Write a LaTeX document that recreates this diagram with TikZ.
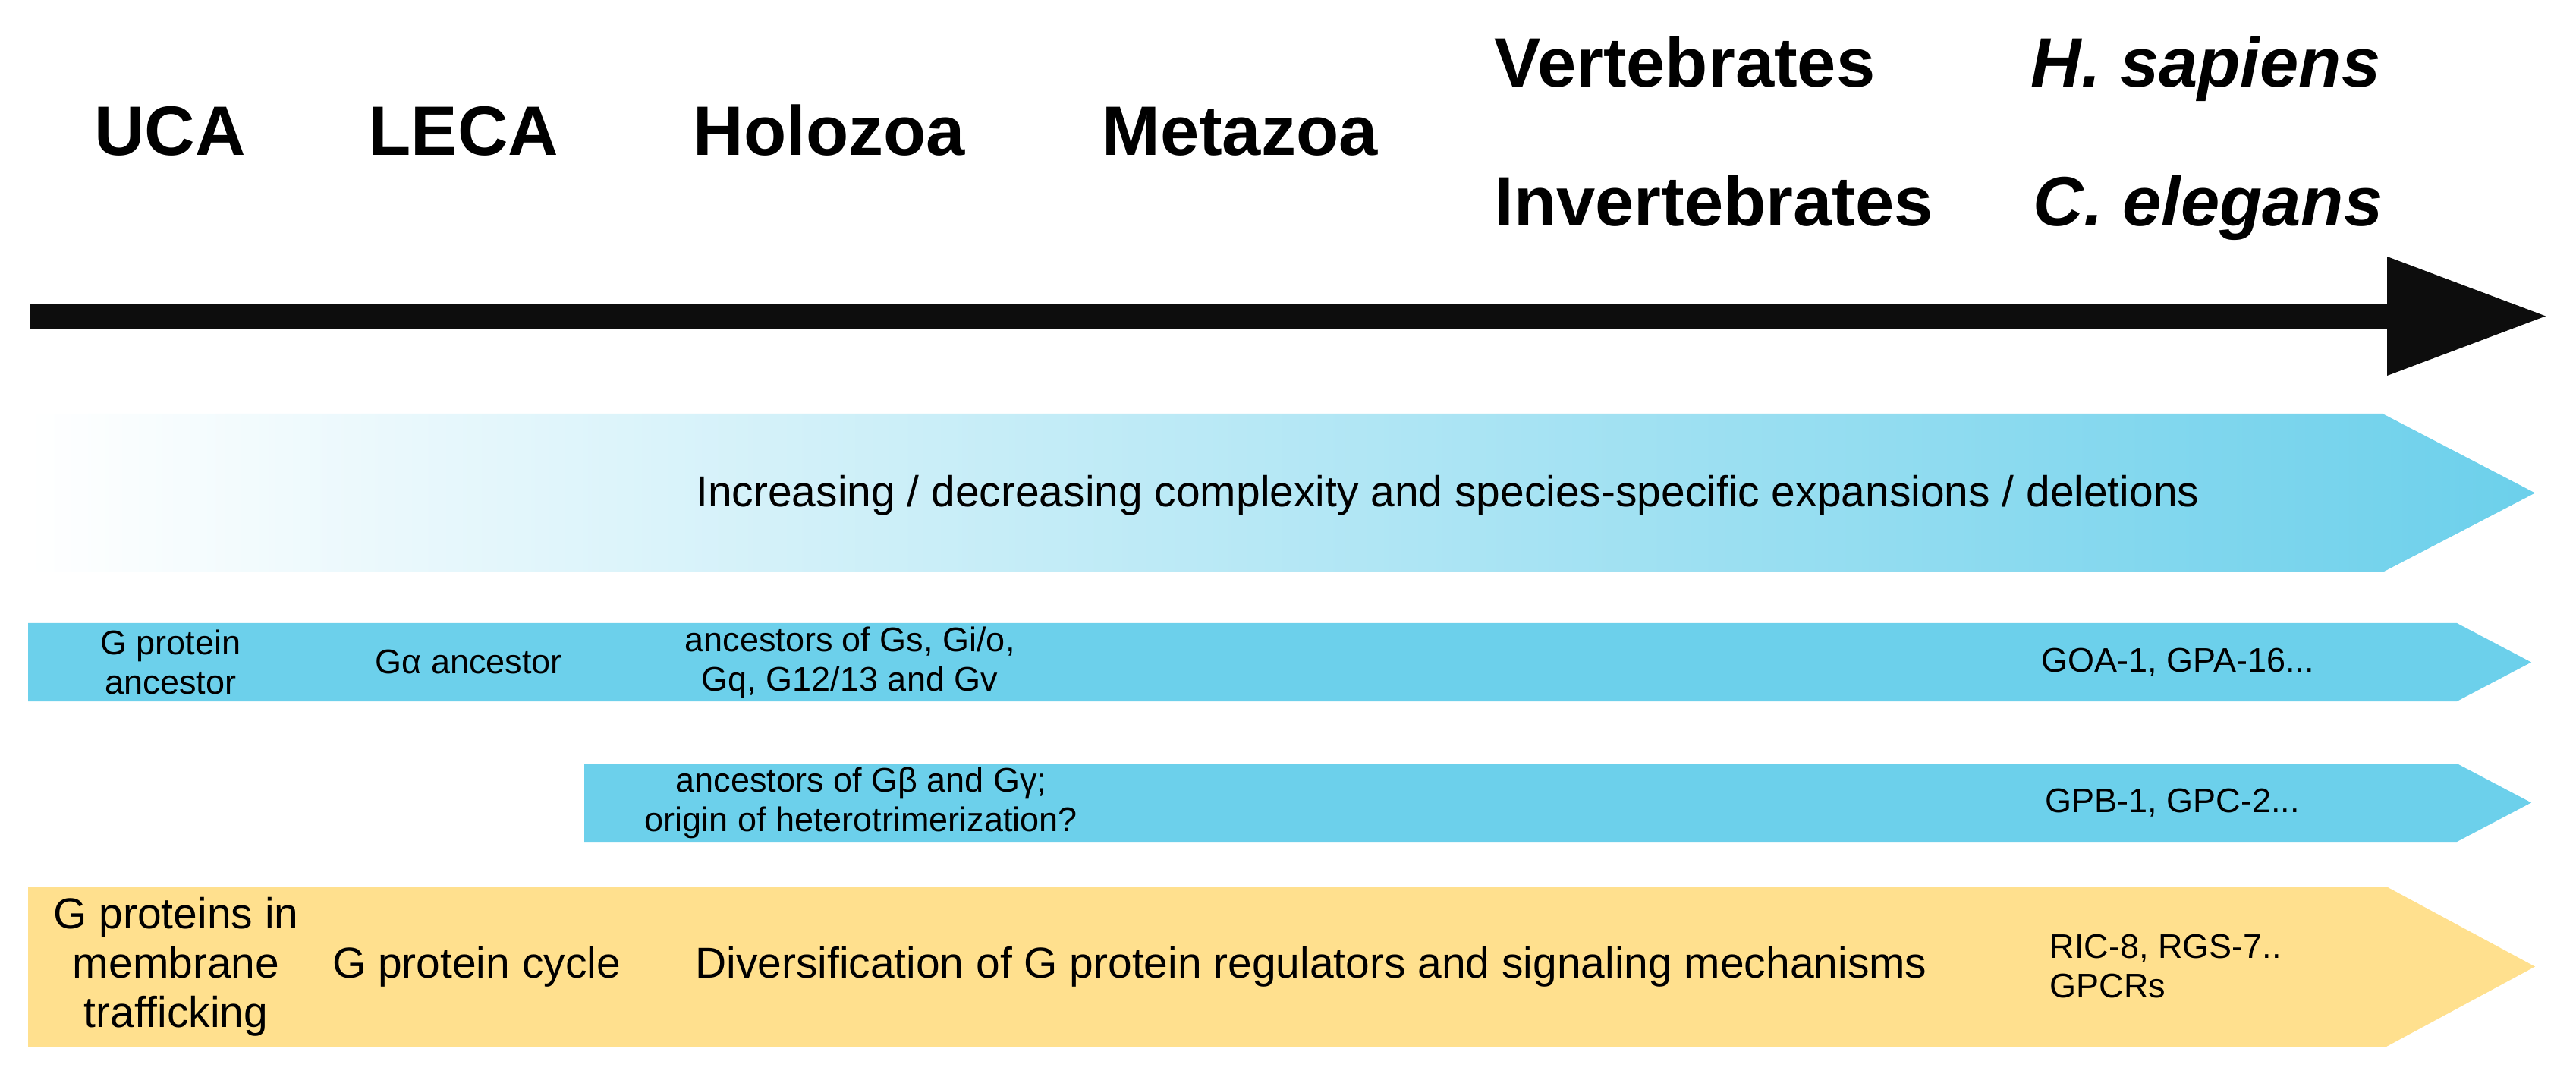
\documentclass[tikz,border=0pt]{standalone}
\usepackage{fontspec}
\setmainfont{Liberation Sans}
\usepackage{tikz}
\definecolor{gblue}{RGB}{108,208,235}
\definecolor{gyellow}{RGB}{255,224,142}
\def\bandarrow[#1](#2,#3)(#4,#5)(#6){\path[#1] (#2,#3) -- (#4,#3) -- (#6,{(#3+#5)/2}) -- (#4,#5) -- (#2,#5) -- cycle;}

\begin{document}
\begin{tikzpicture}[
		taxon/.style={inner sep=0pt, font=\fontsize{26.2}{30}\selectfont\bfseries},
		smalltxt/.style={inner sep=0pt, align=center, font=\fontsize{12.8}{14.8}\selectfont},
		bigtxt/.style={inner sep=0pt, align=center, font=\fontsize{16.2}{18.5}\selectfont}]
		%%%%% START %%%%%
		
		\useasboundingbox (0, 0) rectangle (33.95, 14.14);
		
		% time line
		\fill[black!95] (0.40, 9.81) rectangle (31.46, 10.14);
		\fill[black!95] (31.46, 10.76) -- (33.55, 9.975) -- (31.46, 9.19) -- cycle;
		
		\node[taxon, anchor=base] (uca) at (2.24, 12.09) {UCA};
		\node[taxon, anchor=base] (leca) at (6.11, 12.09) {LECA};
		\node[taxon, anchor=base] (holozoa) at (10.93, 12.09) {Holozoa};
		\node[taxon, anchor=base] (metazoa) at (16.34, 12.09) {Metazoa};
		\node[taxon, anchor=base west] (vert) at (19.69, 12.99) {Vertebrates};
		\node[taxon, anchor=base west] (invert) at (19.69, 11.16) {Invertebrates};
		\node[taxon, anchor=base west] (hsap) at (26.76, 12.99) {\itshape H. sapiens};
		\node[taxon, anchor=base west] (cele) at (26.79, 11.16) {\itshape C. elegans};
		
		% bands
		\bandarrow[left color=white, middle color=gblue!45, right color=gblue](0.37, 8.69)(31.40, 6.60)(33.41)
		\bandarrow[fill=gblue](0.37, 5.93)(32.38, 4.90)(33.36)
		\bandarrow[fill=gblue](7.70, 4.08)(32.38, 3.05)(33.36)
		\bandarrow[fill=gyellow](0.37, 2.46)(31.45, 0.35)(33.41)
		
		\node[bigtxt, anchor=base] (trend) at (19.08, 7.46) {Increasing / decreasing complexity and species-specific expansions / deletions};
		
		\node[smalltxt] (gprot) at (2.25, 5.415) {G protein\\ancestor};
		\node[smalltxt] (galpha) at (6.18, 5.415) {Gα ancestor};
		\node[smalltxt] (gsubs) at (11.20, 5.415) {ancestors of Gs, Gi/o,\\Gq, G12/13 and Gv};
		\node[smalltxt, anchor=west] (goa) at (26.90, 5.415) {GOA-1, GPA-16...};
		
		\node[smalltxt] (gbg) at (11.35, 3.565) {ancestors of Gβ and Gγ;\\origin of heterotrimerization?};
		\node[smalltxt, anchor=west] (gpb) at (26.95, 3.565) {GPB-1, GPC-2...};
		
		\node[bigtxt] (gmemb) at (2.32, 1.405) {G proteins in\\membrane\\trafficking};
		\node[bigtxt] (gcycle) at (6.28, 1.405) {G protein cycle};
		\node[bigtxt] (gdiv) at (17.28, 1.405) {Diversification of G protein regulators and signaling mechanisms};
		\node[smalltxt, align=left, anchor=west] (ric) at (27.01, 1.405) {RIC-8, RGS-7..\\GPCRs};
		
		%%%%% END %%%%%
	\end{tikzpicture}
\end{document}
